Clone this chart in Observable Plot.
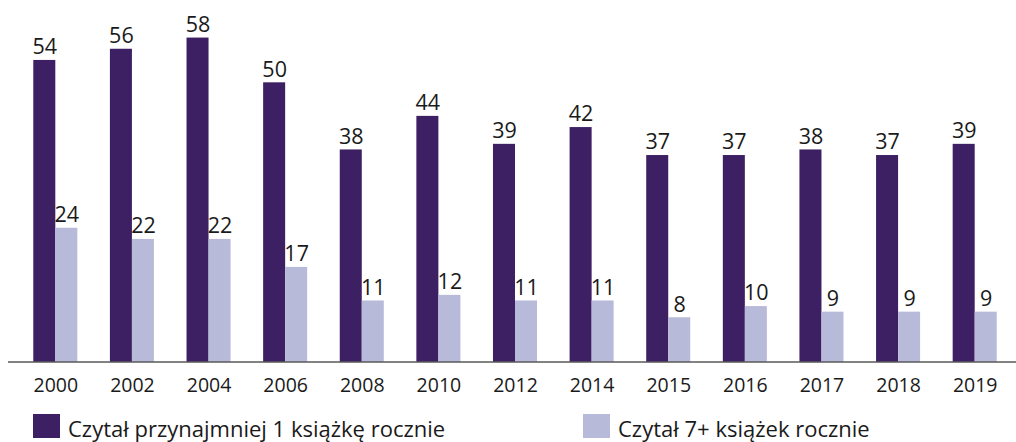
<!DOCTYPE html>
<html><head><meta charset="utf-8">
<script src="https://cdn.jsdelivr.net/npm/d3@7"></script>
<script src="https://cdn.jsdelivr.net/npm/@observablehq/plot@0.6"></script>
<style>
body{margin:0;background:#fff;font-family:"Open Sans",sans-serif;}
#wrap{position:relative;width:1016px;height:442px;}
.sw{position:absolute;width:27px;height:24px;}
.lt{position:absolute;font-size:22px;line-height:30px;color:#1a1a1a;white-space:nowrap;}
</style></head>
<body><div id="wrap"></div>
<script>
const years = ["2000","2002","2004","2006","2008","2010","2012","2014","2015","2016","2017","2018","2019"];
const series = ["Czytał przynajmniej 1 książkę rocznie","Czytał 7+ książek rocznie"];
const atLeast1 = [54,56,58,50,38,44,39,42,37,37,38,37,39];
const sevenPlus = [24,22,22,17,11,12,11,11,8,10,9,9,9];
const colors = ["#3c2063","#b8bad9"];

const data = [];
years.forEach((y,i)=>{
  data.push({year:y, s:series[0], v:atLeast1[i]});
  data.push({year:y, s:series[1], v:sevenPlus[i]});
});

const chart = Plot.plot({
  width:1016, height:408,
  marginTop:4, marginBottom:46, marginLeft:17, marginRight:3,
  style:{fontFamily:"'Open Sans', sans-serif", color:"#1a1a1a", background:"transparent"},
  fx:{domain:years, padding:0, round:false, axis:"bottom", tickSize:0, tickPadding:16, label:null},
  x:{domain:series, axis:null, paddingInner:0, paddingOuter:0.74, round:false},
  y:{domain:[0,64], axis:null},
  color:{domain:series, range:colors},
  marks:[
    Plot.barY(data,{fx:"year", x:"s", y:"v", fill:"s"}),
    Plot.text(data,{fx:"year", x:"s", y:"v", text:d=>String(d.v), dy:-13, fontSize:21.5, fill:"#1a1a1a"})
  ]
});
chart.querySelectorAll("g[aria-label^='fx-axis'] text").forEach(t=>t.style.fontSize="19.5px");
const y0 = chart.scale("y").apply(0);
d3.select(chart).append("line")
  .attr("x1",8).attr("x2",1016).attr("y1",y0).attr("y2",y0)
  .attr("stroke","#595959").attr("stroke-width",1.5);
const wrap = document.getElementById("wrap");
wrap.appendChild(chart);
chart.style.position="absolute"; chart.style.left="0"; chart.style.top="0";

const legPos = [33, 583];
series.forEach((s,i)=>{
  const sw = document.createElement("div");
  sw.className="sw";
  sw.style.left = legPos[i]+"px"; sw.style.top="414px"; sw.style.background=colors[i];
  wrap.appendChild(sw);
  const t = document.createElement("div");
  t.className="lt";
  t.style.left = (legPos[i]+35)+"px"; t.style.top="413px";
  t.textContent = s;
  wrap.appendChild(t);
});
</script></body></html>
